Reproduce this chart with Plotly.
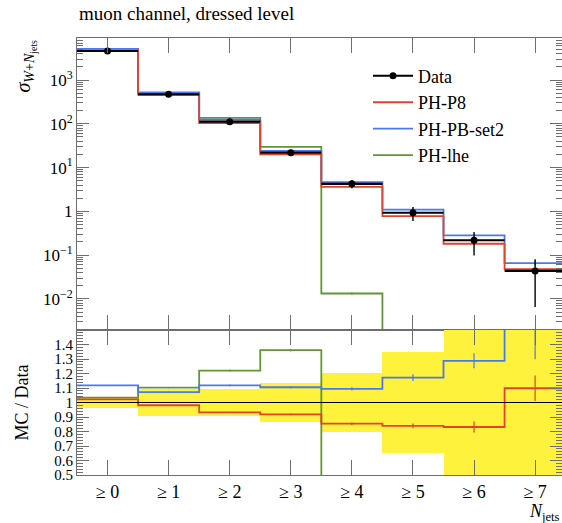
import plotly.graph_objects as go
from plotly.subplots import make_subplots

# ---------------- data ----------------
categories = ["≥ 0", "≥ 1", "≥ 2", "≥ 3", "≥ 4", "≥ 5", "≥ 6", "≥ 7"]
n_jets = [0, 1, 2, 3, 4, 5, 6, 7]
data_vals = [4600, 471, 112, 21.9, 4.25, 0.93, 0.219, 0.0437]
data_rel_err = [0.035, 0.09, 0.095, 0.136, 0.204, 0.35, 0.55, 0.85]
ph_p8 = [4701, 462, 104.4, 20.1, 3.63, 0.780, 0.182, 0.048]
ph_pb_set2 = [5143, 505, 125.2, 24.2, 4.65, 1.09, 0.282, 0.066]
ph_lhe = [4756, 519, 136.6, 29.8, 0.0133, 0, 0, 0]
p8_rel_err = [0.003, 0.004, 0.005, 0.006, 0.01, 0.02, 0.045, 0.08]
pb_rel_err = [0.003, 0.004, 0.005, 0.006, 0.01, 0.02, 0.04, 0.14]
lhe_rel_err = [0.003, 0.004, 0.005, 0.006, 0.05, 0, 0, 0]

C_DATA = "black"
C_P8 = "#e0452c"
C_PB = "#4a78f0"
C_LHE = "#62962f"
C_BAND = "#fff23c"
FONT = "Liberation Serif, Times New Roman, serif"

edges = [c - 0.5 for c in n_jets] + [n_jets[-1] + 0.5]
FLOOR = 1e-6  # empty bins drawn below the visible log range


def step_y(vals):
    return list(vals) + [vals[-1]]


fig = make_subplots(rows=2, cols=1, shared_xaxes=True, vertical_spacing=0,
                    row_heights=[292, 145])

# ---------- top panel ----------
for name, vals, col, rel in [("PH-lhe", ph_lhe, C_LHE, lhe_rel_err),
                             ("PH-PB-set2", ph_pb_set2, C_PB, pb_rel_err),
                             ("PH-P8", ph_p8, C_P8, p8_rel_err)]:
    yv = [v if v > 0 else FLOOR for v in vals]
    fig.add_trace(go.Scatter(x=edges, y=step_y(yv), mode="lines",
                             line=dict(color=col, width=1.8, shape="hv"),
                             name=name, showlegend=False), row=1, col=1)
    fig.add_trace(go.Scatter(x=n_jets, y=yv, mode="markers",
                             marker=dict(size=0.1, color=col), showlegend=False,
                             error_y=dict(type="data", array=[v * r for v, r in zip(yv, rel)],
                                          color=col, thickness=1.2, width=0)), row=1, col=1)

fig.add_trace(go.Scatter(x=n_jets, y=data_vals, mode="markers",
                         marker=dict(size=7, color=C_DATA), showlegend=False,
                         error_x=dict(type="constant", value=0.5, color=C_DATA, thickness=2.2, width=0),
                         error_y=dict(type="data", array=[v * r for v, r in zip(data_vals, data_rel_err)],
                                      color=C_DATA, thickness=1.4, width=0)), row=1, col=1)

# legend entries
fig.add_trace(go.Scatter(x=[None], y=[None], mode="lines+markers", name="Data",
                         line=dict(color=C_DATA, width=2), marker=dict(size=7, color=C_DATA)), row=1, col=1)
fig.add_trace(go.Scatter(x=[None], y=[None], mode="lines", name="PH-P8",
                         line=dict(color=C_P8, width=1.8)), row=1, col=1)
fig.add_trace(go.Scatter(x=[None], y=[None], mode="lines", name="PH-PB-set2",
                         line=dict(color=C_PB, width=1.8)), row=1, col=1)
fig.add_trace(go.Scatter(x=[None], y=[None], mode="lines", name="PH-lhe",
                         line=dict(color=C_LHE, width=1.8)), row=1, col=1)

# ---------- ratio panel ----------
fig.add_trace(go.Bar(x=n_jets, y=[2 * e for e in data_rel_err], base=[1 - e for e in data_rel_err],
                     width=1.0, marker=dict(color=C_BAND, line=dict(width=0)),
                     showlegend=False), row=2, col=1)
for name, vals, col, rel in [("PH-lhe", ph_lhe, C_LHE, lhe_rel_err),
                             ("PH-PB-set2", ph_pb_set2, C_PB, pb_rel_err),
                             ("PH-P8", ph_p8, C_P8, p8_rel_err)]:
    r = [v / d for v, d in zip(vals, data_vals)]
    fig.add_trace(go.Scatter(x=edges, y=step_y(r), mode="lines",
                             line=dict(color=col, width=1.8, shape="hv"),
                             showlegend=False), row=2, col=1)
    fig.add_trace(go.Scatter(x=n_jets, y=r, mode="markers", marker=dict(size=0.1, color=col),
                             showlegend=False,
                             error_y=dict(type="data", array=[a * b for a, b in zip(r, rel)],
                                          color=col, thickness=1.2, width=0)), row=2, col=1)

fig.add_hline(y=1, line=dict(color="black", width=1), row=2, col=1)

# ---------- axes ----------
axcol = "#6e6e6e"
major_dec = [-2, -1, 0, 1, 2, 3]
ylab = ["10<sup>−2</sup>", "10<sup>−1</sup>", "1", "10<sup>1</sup>", "10<sup>2</sup>", "10<sup>3</sup>"]
minor_vals = [m * 10 ** d for d in range(-3, 4) for m in range(2, 10)]

common_x = dict(range=[-0.5, 7.44], showgrid=False, zeroline=False, showline=True,
                linecolor=axcol, linewidth=1, mirror="ticks", ticks="inside",
                ticklen=15, tickcolor=axcol, tickwidth=1, tickvals=n_jets)
fig.update_xaxes(**common_x, showticklabels=False, row=1, col=1)
fig.update_xaxes(**common_x, ticktext=categories, showticklabels=True,
                 tickfont=dict(family=FONT, size=18, color="black"), row=2, col=1)

fig.update_yaxes(type="log", range=[-2.71, 3.96], showgrid=False, zeroline=False,
                 showline=True, linecolor=axcol, linewidth=1, mirror="ticks",
                 ticks="inside", ticklen=12, tickcolor=axcol,
                 tickvals=[10 ** d for d in major_dec], ticktext=ylab,
                 tickfont=dict(family=FONT, size=17, color="black"),
                 minor=dict(tickmode="array", tickvals=minor_vals, ticks="inside",
                            ticklen=6, tickcolor=axcol, showgrid=False),
                 row=1, col=1)
fig.update_yaxes(range=[0.5, 1.5], showgrid=False, zeroline=False, showline=True,
                 linecolor=axcol, linewidth=1, mirror="ticks", ticks="inside",
                 ticklen=12, tickcolor=axcol,
                 tickvals=[0.5, 0.6, 0.7, 0.8, 0.9, 1.0, 1.1, 1.2, 1.3, 1.4],
                 ticktext=["0.5", "0.6", "0.7", "0.8", "0.9", "1", "1.1", "1.2", "1.3", "1.4"],
                 tickfont=dict(family=FONT, size=15, color="black"),
                 minor=dict(dtick=0.02, ticks="inside", ticklen=6, tickcolor=axcol, showgrid=False),
                 row=2, col=1)

fig.update_layout(
    width=562, height=523,
    margin=dict(l=77, r=0, t=38, b=48),
    paper_bgcolor="white", plot_bgcolor="white",
    font=dict(family=FONT, color="black"),
    bargap=0, barmode="overlay",
    legend=dict(x=0.6, y=0.955, xanchor="left", yanchor="top",
                font=dict(family=FONT, size=18), bgcolor="rgba(0,0,0,0)",
                itemwidth=40, tracegroupgap=0),
    annotations=[
        dict(text="muon channel, dressed level", xref="paper", yref="paper",
             x=0, y=1.0, yshift=12, xanchor="left", yanchor="bottom", showarrow=False,
             font=dict(family=FONT, size=19)),
        dict(text="<i>σ</i><sub><i>W</i>+<i>N</i><sub>jets</sub></sub>", xref="paper", yref="paper",
             x=0, xshift=-52, y=1.0, xanchor="center", yanchor="top", textangle=-90,
             showarrow=False, font=dict(family=FONT, size=20)),
        dict(text="MC / Data", xref="paper", yref="paper",
             x=0, xshift=-55, y=0.166, xanchor="center", yanchor="middle", textangle=-90,
             showarrow=False, font=dict(family=FONT, size=18)),
        dict(text="<i>N</i><sub>jets</sub>", xref="paper", yref="paper",
             x=1.0, y=0, yshift=-24, xanchor="right", yanchor="top",
             showarrow=False, font=dict(family=FONT, size=18)),
    ],
)

fig.write_html("out.html", config={"displayModeBar": False},
               post_script="document.body.style.margin='0';document.body.style.overflow='hidden';")
